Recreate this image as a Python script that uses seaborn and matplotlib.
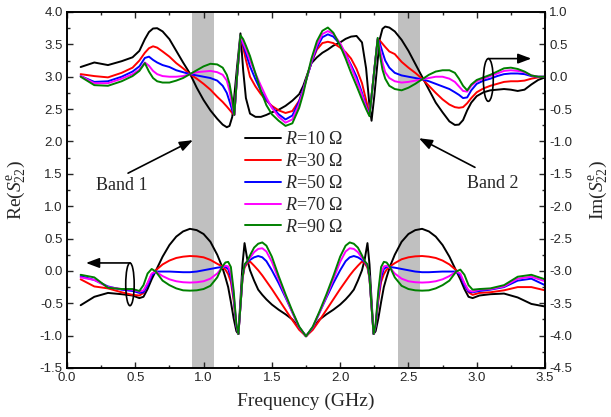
import numpy as np
import pandas as pd
import matplotlib
matplotlib.use("Agg")
import matplotlib.pyplot as plt
from matplotlib.patches import Ellipse
import seaborn as sns

# ---------------- data ----------------
labels = [r"$R$=10 Ω", r"$R$=30 Ω", r"$R$=50 Ω", r"$R$=70 Ω", r"$R$=90 Ω"]
colors = ["#000000", "#ff0000", "#0000ff", "#ff00ff", "#008000"]

# frequency grid for Im(S22e) (upper group, right axis)
freq_im = [0.10, 0.20, 0.30, 0.40, 0.48, 0.53, 0.57, 0.60, 0.63, 0.66,
           0.70, 0.75, 0.80, 0.85, 0.90, 0.95, 1.00, 1.05, 1.10, 1.14,
           1.17, 1.19, 1.21, 1.225, 1.245, 1.27, 1.29, 1.31, 1.34, 1.38,
           1.42, 1.46, 1.50, 1.55, 1.60, 1.65, 1.70, 1.73, 1.76, 1.79,
           1.83, 1.87, 1.91, 1.95, 2.00, 2.04, 2.08, 2.12, 2.16, 2.19,
           2.215, 2.23, 2.25, 2.275, 2.29, 2.31, 2.33, 2.36, 2.40, 2.45,
           2.50, 2.55, 2.60, 2.65, 2.70, 2.75, 2.80, 2.84, 2.87, 2.90,
           2.93, 2.96, 3.00, 3.05, 3.10, 3.15, 3.20, 3.25, 3.30, 3.35,
           3.40, 3.45, 3.50]

im_r10 = [0.15, 0.22, 0.18, 0.24, 0.30, 0.40, 0.58, 0.69, 0.745, 0.75,
          0.70, 0.58, 0.40, 0.22, 0.05, -0.17, -0.36, -0.52, -0.65, -0.74,
          -0.78, -0.76, -0.62, -0.30, 0.15, 0.67, 0.10, -0.33, -0.57, -0.62,
          -0.62, -0.59, -0.55, -0.51, -0.45, -0.37, -0.27, -0.14, 0.04, 0.21,
          0.30, 0.37, 0.42, 0.48, 0.53, 0.585, 0.62, 0.63, 0.53, 0.13,
          -0.45, -0.68, -0.30, 0.25, 0.58, 0.74, 0.775, 0.76, 0.70, 0.57,
          0.40, 0.20, 0.00, -0.20, -0.40, -0.55, -0.69, -0.745, -0.74, -0.67,
          -0.52, -0.40, -0.30, -0.24, -0.21, -0.20, -0.19, -0.20, -0.22, -0.20,
          -0.12, -0.05, -0.01]
im_r30 = [0.04, 0.01, -0.01, 0.06, 0.14, 0.25, 0.37, 0.44, 0.47, 0.45,
          0.39, 0.31, 0.21, 0.13, 0.04, -0.03, -0.11, -0.20, -0.31, -0.39,
          -0.46, -0.51, -0.56, -0.59, 0.00, 0.60, 0.45, 0.26, 0.00, -0.15,
          -0.27, -0.37, -0.45, -0.52, -0.56, -0.53, -0.37, -0.20, 0.02, 0.22,
          0.42, 0.52, 0.54, 0.52, 0.45, 0.38, 0.28, 0.12, -0.10, -0.36,
          -0.58, -0.30, 0.10, 0.57, 0.56, 0.51, 0.46, 0.39, 0.35, 0.23,
          0.14, 0.06, -0.03, -0.14, -0.25, -0.35, -0.43, -0.47, -0.48, -0.47,
          -0.41, -0.33, -0.24, -0.18, -0.14, -0.11, -0.08, -0.07, -0.07, -0.06,
          -0.03, -0.01, 0.00]
im_r50 = [0.01, -0.08, -0.07, 0.00, 0.08, 0.16, 0.29, 0.31, 0.26, 0.22,
          0.18, 0.15, 0.10, 0.07, 0.04, 0.02, 0.00, -0.02, -0.06, -0.14,
          -0.25, -0.38, -0.52, -0.59, 0.00, 0.62, 0.49, 0.36, 0.16, -0.04,
          -0.22, -0.35, -0.47, -0.58, -0.66, -0.60, -0.38, -0.19, 0.01, 0.22,
          0.45, 0.61, 0.655, 0.62, 0.50, 0.35, 0.18, 0.00, -0.25, -0.45,
          -0.59, -0.30, 0.10, 0.58, 0.52, 0.38, 0.25, 0.14, 0.06, 0.02,
          0.00, -0.02, -0.04, -0.07, -0.11, -0.15, -0.19, -0.24, -0.28, -0.33,
          -0.32, -0.21, -0.11, -0.06, -0.03, 0.01, 0.04, 0.05, 0.05, 0.04,
          0.01, 0.00, 0.00]
im_r70 = [0.01, -0.10, -0.10, -0.03, 0.04, 0.11, 0.22, 0.17, 0.09, 0.04,
          0.01, 0.00, 0.00, 0.01, 0.04, 0.07, 0.08, 0.09, 0.07, 0.03,
          -0.06, -0.22, -0.45, -0.59, 0.00, 0.63, 0.52, 0.42, 0.25, 0.05,
          -0.14, -0.32, -0.48, -0.62, -0.71, -0.66, -0.42, -0.21, 0.01, 0.24,
          0.49, 0.66, 0.705, 0.66, 0.52, 0.35, 0.15, -0.06, -0.28, -0.47,
          -0.60, -0.30, 0.10, 0.59, 0.45, 0.22, 0.07, -0.02, -0.07, -0.09,
          -0.08, -0.06, -0.04, -0.02, 0.00, 0.00, -0.03, -0.08, -0.15, -0.22,
          -0.23, -0.14, -0.07, -0.03, 0.01, 0.05, 0.09, 0.10, 0.09, 0.07,
          0.02, 0.00, 0.00]
im_r90 = [0.00, -0.13, -0.14, -0.07, 0.01, 0.09, 0.21, 0.08, -0.02, -0.07,
          -0.09, -0.09, -0.06, -0.02, 0.04, 0.10, 0.16, 0.20, 0.19, 0.14,
          0.03, -0.11, -0.35, -0.59, 0.00, 0.64, 0.58, 0.48, 0.32, 0.05,
          -0.22, -0.44, -0.58, -0.68, -0.76, -0.72, -0.48, -0.26, 0.02, 0.28,
          0.55, 0.71, 0.76, 0.68, 0.48, 0.28, 0.06, -0.14, -0.35, -0.50,
          -0.61, -0.30, 0.10, 0.60, 0.35, 0.11, -0.03, -0.14, -0.19, -0.21,
          -0.17, -0.11, -0.04, 0.03, 0.08, 0.10, 0.10, 0.06, -0.03, -0.14,
          -0.21, -0.12, -0.05, -0.01, 0.03, 0.08, 0.13, 0.14, 0.12, 0.08,
          0.02, 0.00, 0.00]

# frequency grid for Re(S22e) (lower group, left axis)
freq_re = [0.10, 0.20, 0.30, 0.40, 0.48, 0.53, 0.56, 0.59, 0.62, 0.65,
           0.70, 0.75, 0.80, 0.85, 0.90, 0.95, 1.00, 1.05, 1.10, 1.135,
           1.16, 1.18, 1.20, 1.22, 1.24, 1.255, 1.27, 1.285, 1.30, 1.32,
           1.34, 1.37, 1.40, 1.43, 1.46, 1.50, 1.55, 1.60, 1.65, 1.70,
           1.75, 1.80, 1.85, 1.90, 1.95, 2.00, 2.04, 2.07, 2.10, 2.13,
           2.16, 2.18, 2.20, 2.215, 2.23, 2.245, 2.26, 2.28, 2.30, 2.32,
           2.34, 2.365, 2.40, 2.45, 2.50, 2.55, 2.60, 2.65, 2.70, 2.75,
           2.80, 2.85, 2.88, 2.91, 2.94, 2.97, 3.02, 3.10, 3.20, 3.30,
           3.40, 3.50]

re_r10 = [-0.53, -0.40, -0.34, -0.36, -0.38, -0.42, -0.40, -0.28, -0.13, 0.00,
          0.22, 0.40, 0.53, 0.61, 0.65, 0.63, 0.57, 0.45, 0.25, 0.07,
          -0.10, -0.25, -0.48, -0.73, -0.93, -0.975, -0.45, 0.10, 0.43, 0.18,
          0.01, -0.15, -0.29, -0.37, -0.44, -0.52, -0.60, -0.67, -0.75, -0.88,
          -1.01, -0.88, -0.75, -0.67, -0.60, -0.52, -0.44, -0.37, -0.29, -0.15,
          0.01, 0.18, 0.43, 0.10, -0.45, -0.975, -0.93, -0.73, -0.48, -0.25,
          -0.10, 0.07, 0.25, 0.45, 0.57, 0.63, 0.65, 0.61, 0.53, 0.40,
          0.22, 0.00, -0.13, -0.28, -0.40, -0.42, -0.38, -0.36, -0.35, -0.41,
          -0.51, -0.55]
re_r30 = [-0.13, -0.24, -0.27, -0.33, -0.37, -0.38, -0.34, -0.19, -0.06, 0.01,
          0.10, 0.16, 0.20, 0.22, 0.23, 0.225, 0.21, 0.17, 0.11, 0.07,
          0.02, -0.05, -0.17, -0.45, -0.85, -0.975, -0.55, -0.12, 0.05, 0.12,
          0.145, 0.08, 0.01, -0.07, -0.16, -0.28, -0.44, -0.60, -0.76, -0.91,
          -1.01, -0.91, -0.76, -0.60, -0.44, -0.28, -0.16, -0.07, 0.01, 0.08,
          0.145, 0.12, 0.05, -0.12, -0.55, -0.975, -0.85, -0.45, -0.17, -0.05,
          0.02, 0.07, 0.12, 0.18, 0.21, 0.225, 0.23, 0.22, 0.20, 0.16,
          0.10, 0.01, -0.08, -0.20, -0.33, -0.37, -0.34, -0.33, -0.30, -0.25,
          -0.25, -0.30]
re_r50 = [-0.08, -0.14, -0.24, -0.29, -0.31, -0.34, -0.33, -0.22, -0.07, -0.01,
          -0.01, -0.01, -0.015, -0.02, -0.02, -0.01, 0.01, 0.03, 0.05, 0.06,
          0.06, 0.03, -0.10, -0.40, -0.85, -0.975, -0.55, -0.10, 0.08, 0.14,
          0.17, 0.21, 0.23, 0.21, 0.15, 0.01, -0.19, -0.41, -0.64, -0.87,
          -1.01, -0.87, -0.64, -0.41, -0.19, 0.01, 0.15, 0.21, 0.23, 0.21,
          0.17, 0.14, 0.08, -0.10, -0.55, -0.975, -0.85, -0.40, -0.10, 0.03,
          0.06, 0.06, 0.05, 0.03, 0.01, -0.01, -0.02, -0.02, -0.015, -0.01,
          -0.01, -0.01, -0.07, -0.22, -0.32, -0.33, -0.31, -0.29, -0.25, -0.15,
          -0.12, -0.22]
re_r70 = [-0.10, -0.14, -0.25, -0.28, -0.29, -0.32, -0.30, -0.19, -0.04, -0.01,
          -0.08, -0.13, -0.16, -0.175, -0.18, -0.175, -0.16, -0.12, -0.04, 0.05,
          0.08, 0.07, -0.04, -0.35, -0.83, -0.975, -0.55, -0.10, 0.09, 0.15,
          0.20, 0.29, 0.34, 0.35, 0.30, 0.14, -0.13, -0.39, -0.64, -0.87,
          -1.01, -0.87, -0.64, -0.39, -0.13, 0.14, 0.30, 0.35, 0.34, 0.29,
          0.20, 0.15, 0.09, -0.10, -0.55, -0.975, -0.83, -0.35, -0.04, 0.07,
          0.08, 0.05, -0.04, -0.12, -0.16, -0.175, -0.18, -0.175, -0.16, -0.13,
          -0.08, -0.01, -0.04, -0.19, -0.30, -0.32, -0.29, -0.28, -0.24, -0.12,
          -0.09, -0.16]
re_r90 = [-0.06, -0.10, -0.26, -0.28, -0.28, -0.31, -0.22, -0.04, 0.03, -0.01,
          -0.15, -0.22, -0.27, -0.30, -0.305, -0.30, -0.28, -0.23, -0.10, 0.06,
          0.13, 0.14, 0.06, -0.30, -0.82, -0.975, -0.55, -0.10, 0.10, 0.15,
          0.24, 0.36, 0.42, 0.44, 0.39, 0.22, -0.08, -0.36, -0.62, -0.86,
          -1.01, -0.86, -0.62, -0.36, -0.08, 0.22, 0.39, 0.44, 0.42, 0.36,
          0.24, 0.15, 0.10, -0.10, -0.55, -0.975, -0.82, -0.30, 0.06, 0.14,
          0.13, 0.06, -0.10, -0.23, -0.28, -0.30, -0.305, -0.30, -0.27, -0.22,
          -0.15, -0.01, 0.02, -0.06, -0.22, -0.29, -0.28, -0.27, -0.22, -0.09,
          -0.06, -0.13]

band1 = (0.915, 1.076)
band2 = (2.42, 2.585)

x_ticks = [0.0, 0.5, 1.0, 1.5, 2.0, 2.5, 3.0, 3.5]
re_ticks = [-1.5, -1.0, -0.5, 0.0, 0.5, 1.0, 1.5, 2.0, 2.5, 3.0, 3.5, 4.0]
im_ticks = [-4.5, -4.0, -3.5, -3.0, -2.5, -2.0, -1.5, -1.0, -0.5, 0.0, 0.5, 1.0]

# ---------------- long-form tables ----------------
im_series = [im_r10, im_r30, im_r50, im_r70, im_r90]
re_series = [re_r10, re_r30, re_r50, re_r70, re_r90]
df_im = pd.concat([pd.DataFrame({"freq": freq_im, "value": v, "R": lab})
                   for v, lab in zip(im_series, labels)], ignore_index=True)
df_re = pd.concat([pd.DataFrame({"freq": freq_re, "value": v, "R": lab})
                   for v, lab in zip(re_series, labels)], ignore_index=True)

# ---------------- style ----------------
sns.set_style("ticks")
plt.rcParams["font.family"] = ["Liberation Sans", "DejaVu Sans"]
plt.rcParams["mathtext.fontset"] = "custom"
plt.rcParams["mathtext.rm"] = "Liberation Serif"
plt.rcParams["mathtext.it"] = "Liberation Serif:italic"
plt.rcParams["axes.unicode_minus"] = False
serif = ["Liberation Serif", "DejaVu Serif"]

fig = plt.figure(figsize=(6.11, 4.17), dpi=100)
ax = fig.add_axes([67 / 611, 1 - 368 / 417, 478 / 611, 356 / 417])
ax2 = ax.twinx()

palette = dict(zip(labels, colors))

for lo, hi in (band1, band2):
    ax.axvspan(lo, hi, color="#c0c0c0", lw=0, zorder=0)

sns.lineplot(data=df_re, x="freq", y="value", hue="R", hue_order=labels,
             palette=palette, estimator=None, linewidth=1.4, legend=False, ax=ax)
sns.lineplot(data=df_im, x="freq", y="value", hue="R", hue_order=labels,
             palette=palette, estimator=None, linewidth=1.4, legend=True, ax=ax2)

ax.set_xlim(0.0, 3.5)
ax.set_ylim(-1.5, 4.0)
ax2.set_ylim(-4.5, 1.0)

ax.set_xticks(x_ticks)
ax.set_xticklabels([f"{t:.1f}" for t in x_ticks])
ax.set_yticks(re_ticks)
ax.set_yticklabels([f"{t:.1f}" for t in re_ticks])
ax2.set_yticks(im_ticks)
ax2.set_yticklabels([f"{t:.1f}" for t in im_ticks])
ax.xaxis.set_minor_locator(matplotlib.ticker.MultipleLocator(0.25))
ax.yaxis.set_minor_locator(matplotlib.ticker.MultipleLocator(0.25))
ax2.yaxis.set_minor_locator(matplotlib.ticker.MultipleLocator(0.25))

ax.tick_params(axis="both", which="both", direction="in", top=True, right=False,
               labelsize=9.5, pad=3, width=1.0)
ax.tick_params(which="major", length=4)
ax.tick_params(which="minor", length=2.4)
ax2.tick_params(axis="y", which="both", direction="in", labelsize=9.5, pad=3, width=1.0)
ax2.tick_params(which="major", length=4)
ax2.tick_params(which="minor", length=2.4)

for a in (ax, ax2):
    for s in a.spines.values():
        s.set_linewidth(1.2)
        s.set_color("black")

ax.set_xlabel("Frequency (GHz)", fontsize=14, family=serif)
ax.set_ylabel(r"Re($S^{\rm e}_{22}$)", fontsize=14, family=serif)
ax2.set_ylabel(r"Im($S^{\rm e}_{22}$)", fontsize=14, family=serif)
ax.xaxis.set_label_coords(0.5, -0.07)
ax.yaxis.set_label_coords(-0.082, 0.5)
ax2.yaxis.set_label_coords(1.09, 0.5)

leg = ax2.legend(loc="upper left", bbox_to_anchor=(0.372, 0.665), frameon=False,
                 prop={"family": serif, "size": 13}, handlelength=2.0,
                 handletextpad=0.25, labelspacing=0.27, borderpad=0, borderaxespad=0)
for h in leg.legend_handles:
    h.set_linewidth(1.4)

# band annotations
arrow_kw = dict(arrowstyle="-|>,head_length=0.8,head_width=0.3", color="black",
                lw=1.2, mutation_scale=10, shrinkA=0, shrinkB=0)
ax.annotate("", xy=(0.922, 2.02), xytext=(0.447, 1.51), arrowprops=arrow_kw)
ax.text(0.399, 1.327, "Band 1", ha="center", va="center", fontsize=13, family=serif)
ax.annotate("", xy=(2.577, 2.05), xytext=(2.987, 1.60), arrowprops=arrow_kw)
ax.text(3.115, 1.343, "Band 2", ha="center", va="center", fontsize=13, family=serif)

# group markers: ellipse + arrow pointing to the relevant axis
ax.add_patch(Ellipse((0.461, -0.207), width=0.062, height=0.66, fill=False,
                     ec="black", lw=1.2, zorder=5))
ax.annotate("", xy=(0.139, 0.123), xytext=(0.461, 0.123), arrowprops=arrow_kw)
ax2.add_patch(Ellipse((3.085, -0.05), width=0.072, height=0.66, fill=False,
                      ec="black", lw=1.2, zorder=5))
ax2.annotate("", xy=(3.40, 0.28), xytext=(3.085, 0.28), arrowprops=arrow_kw)

fig.savefig("out.png", dpi=100)
